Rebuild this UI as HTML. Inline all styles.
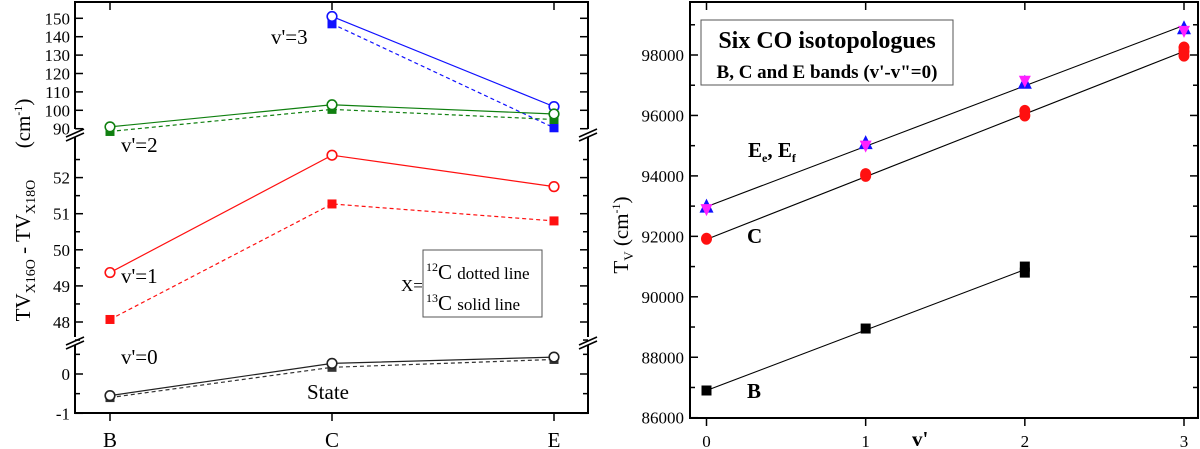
<!DOCTYPE html>
<html><head><meta charset="utf-8"><style>
html,body{margin:0;padding:0;background:#fff;}
svg{display:block;font-family:"Liberation Serif",serif;}
</style></head><body>
<svg id="s" width="1200" height="449" viewBox="0 0 1200 449" xmlns="http://www.w3.org/2000/svg">
<g id="left"></g>
<g id="right"></g>
</svg>
<script>
// ---- Left chart data ----
const states = ["B","C","E"];
const v3Solid = [null, 151, 102];
const v3Dashed = [null, 147, 90.5];
const v2Solid = [91, 103, 98];
const v2Dashed = [88.5, 100.5, 95];
const v1Solid = [49.37, 52.62, 51.75];
const v1Dashed = [48.07, 51.27, 50.8];
const v0Solid = [-0.55, 0.27, 0.43];
const v0Dashed = [-0.6, 0.17, 0.37];
const topTicks = [90,100,110,120,130,140,150];
const midTicks = [48,49,50,51,52];
const botTicks = [-1,0];

// ---- Right chart data ----
const vPrime = [0,1,2,3];
const bValues = [[86900],[88950],[90800,91000],[]];
const cValues = [[91920],[94000,94060],[96000,96150],[97980,98120,98250]];
const eValues = [[92950],[95050],[97050],[98850]];
const eValuesF = [[92900],[95000],[97150],[98800]];
const eFit = [92980, 98980];
const cFit = [91900, 98120];
const bFit = [86900, 90900];
const rightYTicks = [86000,88000,90000,92000,94000,96000,98000];

const NS="http://www.w3.org/2000/svg";
function mk(parent, tag, attrs){const e=document.createElementNS(NS,tag);for(const k in attrs)e.setAttribute(k,attrs[k]);parent.appendChild(e);return e;}

// ===== LEFT =====
const L=document.getElementById('left');
const LX0=75, LX1=588, LY0=2, LY1=413;
const xL = i => [110,332,554][i];
const yTop = v => 128.7 - (v-90)*1.84;
const yMid = v => 322 - (v-48)*36.1;
const yBot = v => 374 - v*39.3;
let fr=mk(L,'rect',{x:LX0,y:LY0,width:LX1-LX0,height:LY1-LY0,fill:'none',stroke:'#000','stroke-width':2});

[135,343].forEach(y=>{
  const g=mk(L,'g',{});
  
  mk(g,'rect',{x:LX0-8,y:y-6,width:16,height:8,fill:'#fff'});
  mk(g,'rect',{x:LX1-8,y:y-6,width:16,height:8,fill:'#fff'});
  [LX0,LX1].forEach(x=>{mk(g,'line',{x1:x-9,y1:y+2,x2:x+9,y2:y-6,stroke:'#000','stroke-width':1.6});mk(g,'line',{x1:x-9,y1:y+6,x2:x+9,y2:y-2,stroke:'#000','stroke-width':1.6});});
});
function ytickL(y,major,label){
  mk(L,'line',{x1:LX0,y1:y,x2:LX0+(major?8:5),y2:y,stroke:'#000','stroke-width':1.5});
  mk(L,'line',{x1:LX1,y1:y,x2:LX1-(major?8:5),y2:y,stroke:'#000','stroke-width':1.5});
  if(label!==null){const t=mk(L,'text',{x:LX0-5,y:y+6,'font-size':17,'text-anchor':'end'});t.textContent=label;
    }
}
topTicks.forEach(v=>ytickL(yTop(v),true,String(v)));
midTicks.forEach(v=>ytickL(yMid(v),true,String(v)));
[47.5,48.5,49.5,50.5,51.5,52.5].forEach(v=>ytickL(yMid(v),false,null));
botTicks.forEach(v=>ytickL(yBot(v),true,String(v)));
[-0.5,0.5].forEach(v=>ytickL(yBot(v),false,null));
states.forEach((s,i)=>{
  mk(L,'line',{x1:xL(i),y1:LY1,x2:xL(i),y2:LY1+8,stroke:'#000','stroke-width':1.5});
  mk(L,'line',{x1:xL(i),y1:LY0,x2:xL(i),y2:LY0+8,stroke:'#000','stroke-width':1.5});
  const t=mk(L,'text',{x:xL(i),y:447,'font-size':21,'text-anchor':'middle'});t.textContent=s;
  
});
function series(vals,yf,color,dashed,marker,name){
  const g=mk(L,'g',{});
  
  const pts=[];vals.forEach((v,i)=>{if(v!==null)pts.push([xL(i),yf(v)]);});
  mk(g,'polyline',{points:pts.map(p=>p.join(',')).join(' '),fill:'none',stroke:color,'stroke-width':1.2,'stroke-dasharray':dashed?'4,3':'none'});
  pts.forEach(p=>{
    if(marker==='c')mk(g,'circle',{cx:p[0],cy:p[1],r:4.8,fill:'#fff',stroke:color,'stroke-width':1.6});
    else mk(g,'rect',{x:p[0]-4.5,y:p[1]-4.5,width:9,height:9,fill:color});
  });
}
series(v3Dashed,yTop,'#1010ff',true,'s','v3-12c-series');
series(v3Solid,yTop,'#1010ff',false,'c','v3-13c-series');
series(v2Dashed,yTop,'#108010',true,'s','v2-12c-series');
series(v2Solid,yTop,'#108010',false,'c','v2-13c-series');
series(v1Dashed,yMid,'#ff1010',true,'s','v1-12c-series');
series(v1Solid,yMid,'#ff1010',false,'c','v1-13c-series');
series(v0Dashed,yBot,'#333',true,'s','v0-12c-series');
series(v0Solid,yBot,'#222',false,'c','v0-13c-series');
function txt(P,x,y,s,size,name,extra){const t=mk(P,'text',Object.assign({x:x,y:y,'font-size':size},extra||{}));t.textContent=s;return t;}
txt(L,271,44,"v'=3",21,'label-v3');
txt(L,121,152,"v'=2",21,'label-v2');
txt(L,121,283,"v'=1",21,'label-v1');
txt(L,121,364,"v'=0",21,'label-v0');
txt(L,307,399,"State",21,'x-axis-title');
const yt=mk(L,'text',{transform:'translate(30,210) rotate(-90)','font-size':21,'text-anchor':'middle'});

yt.innerHTML='TV<tspan font-size="14" dy="5">X16O</tspan><tspan dy="-5"> - TV</tspan><tspan font-size="14" dy="5">X18O</tspan><tspan dy="-5" xml:space="preserve">      (cm</tspan><tspan font-size="12" dy="-8">-1</tspan><tspan dy="8">)</tspan>';
const lg=mk(L,'g',{});
mk(lg,'rect',{x:423,y:250,width:119,height:67,fill:'#fff',stroke:'#555','stroke-width':1});
txt(lg,401,291,"X=",17,'legend-x-label');
const l1=mk(lg,'text',{x:426,y:279,'font-size':21});l1.innerHTML='<tspan font-size="12" dy="-8">12</tspan><tspan dy="8">C </tspan><tspan font-size="17">dotted line</tspan>';

const l2=mk(lg,'text',{x:426,y:310,'font-size':21});l2.innerHTML='<tspan font-size="12" dy="-8">13</tspan><tspan dy="8">C </tspan><tspan font-size="17">solid line</tspan>';


// ===== RIGHT =====
const R=document.getElementById('right');
const RX0=690, RX1=1198, RY0=2, RY1=418;
const xR = v => 706.5 + v*(1184-706.5)/3;
const yR = v => 417.7 - (v-86000)*0.030225;
let fr2=mk(R,'rect',{x:RX0,y:RY0,width:RX1-RX0,height:RY1-RY0,fill:'none',stroke:'#000','stroke-width':2});

for(let v=86000;v<=99500;v+=1000){const y=yR(v);const maj=v%2000===0;
  mk(R,'line',{x1:RX0,y1:y,x2:RX0+(maj?8:5),y2:y,stroke:'#000','stroke-width':1.5});
  mk(R,'line',{x1:RX1,y1:y,x2:RX1-(maj?8:5),y2:y,stroke:'#000','stroke-width':1.5});}
rightYTicks.forEach(v=>{txt(R,684,yR(v)+6,String(v),17,'y-tick-label',{'text-anchor':'end'});});
vPrime.forEach(v=>{
  mk(R,'line',{x1:xR(v),y1:RY1,x2:xR(v),y2:RY1+8,stroke:'#000','stroke-width':1.5});
  mk(R,'line',{x1:xR(v),y1:RY0,x2:xR(v),y2:RY0+8,stroke:'#000','stroke-width':1.5});
  txt(R,xR(v),447,String(v),17,'x-tick-label',{'text-anchor':'middle'});
});
function fit(vals,x1,name){const l=mk(R,'line',{x1:xR(0),y1:yR(vals[0]),x2:xR(x1),y2:yR(vals[1]),stroke:'#000','stroke-width':1.1});
  }
fit(eFit,3,'e-fit-line');fit(cFit,3,'c-fit-line');fit(bFit,2,'b-fit-line');
bValues.forEach((arr,i)=>arr.forEach(v=>{const r=mk(R,'rect',{x:xR(vPrime[i])-5,y:yR(v)-5,width:10,height:10,fill:'#000'});
  }));
cValues.forEach((arr,i)=>arr.forEach(v=>{const c=mk(R,'ellipse',{cx:xR(vPrime[i]),cy:yR(v),rx:5.5,ry:6,fill:'#ff1010'});
  }));
eValues.forEach((arr,i)=>arr.forEach(v=>{const x=xR(vPrime[i]),y=yR(v);
  const p=mk(R,'polygon',{points:`${x},${y-9} ${x-7},${y+5} ${x+7},${y+5}`,fill:'#1010ff'});
  }));
eValuesF.forEach((arr,i)=>arr.forEach(v=>{const x=xR(vPrime[i]),y=yR(v);
  const p=mk(R,'polygon',{points:`${x-6},${y-5} ${x+6},${y-5} ${x},${y+7}`,fill:'#ff20ff'});
  }));
txt(R,748,157,"",21,'label-e',{'font-weight':'bold'}).innerHTML='E<tspan font-size="12" dy="5">e</tspan><tspan dy="-5">, E</tspan><tspan font-size="12" dy="5">f</tspan>';
txt(R,747,243,"C",21,'label-c',{'font-weight':'bold'});
txt(R,747,398,"B",21,'label-b',{'font-weight':'bold'});
txt(R,912,446,"v'",21,'x-axis-title',{'font-weight':'bold'});
const yt2=mk(R,'text',{transform:'translate(628,235) rotate(-90)','font-size':21,'text-anchor':'middle'});

yt2.innerHTML='T<tspan font-size="13" dy="5">V</tspan><tspan dy="-5"> (cm</tspan><tspan font-size="12" dy="-8">-1</tspan><tspan dy="8">)</tspan>';
const tb=mk(R,'g',{});
mk(tb,'rect',{x:701,y:20,width:252,height:65,fill:'#fff',stroke:'#555','stroke-width':1});
txt(tb,827,48,"Six CO isotopologues",24,'chart-title',{'font-weight':'bold','text-anchor':'middle'});
txt(tb,827,78,"B, C and E bands (v'-v\"=0)",19,'chart-subtitle',{'font-weight':'bold','text-anchor':'middle'});
</script>
</body></html>
